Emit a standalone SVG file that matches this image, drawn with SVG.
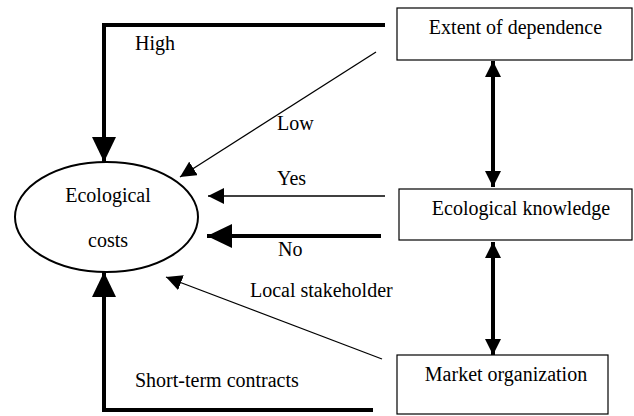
<svg xmlns="http://www.w3.org/2000/svg" width="634" height="416" viewBox="0 0 634 416">
<style>
.box{fill:#fff;stroke:#000;stroke-width:1.2}
.thin{fill:none;stroke:#000;stroke-width:1.3}
.thick{fill:none;stroke:#000;stroke-width:4}
</style>
<defs>
<marker id="big" viewBox="0 0 25 24" refX="25" refY="12" markerWidth="25" markerHeight="24" markerUnits="userSpaceOnUse" orient="auto-start-reverse"><path d="M0,0 L25,12 L0,24 Z" fill="#000"/></marker>
<marker id="mid" viewBox="0 0 16 16" refX="16" refY="8" markerWidth="16" markerHeight="16" markerUnits="userSpaceOnUse" orient="auto-start-reverse"><path d="M0,0 L16,8 L0,16 Z" fill="#000"/></marker>
<marker id="small" viewBox="0 0 16 16" refX="16" refY="8" markerWidth="16" markerHeight="16" markerUnits="userSpaceOnUse" orient="auto"><path d="M0,0 L16,8 L0,16 Z" fill="#000"/></marker>
</defs>
<g font-family="Liberation Serif, Times New Roman, serif" font-size="20" fill="#000">
<g id="connectors">
<path class="thick" d="M385,25 H104 V162" marker-end="url(#big)"/>
<path class="thin" d="M376,52 L180,177" marker-end="url(#small)"/>
<path class="thin" d="M385,196 H208" marker-end="url(#small)"/>
<path class="thick" d="M381,236 H207" marker-end="url(#big)"/>
<path class="thin" d="M382,359 L166,277" marker-end="url(#small)"/>
<path class="thick" d="M373,410 H104 V272" marker-end="url(#big)"/>
<path class="thick" d="M493,61 V187" marker-start="url(#mid)" marker-end="url(#mid)"/>
<path class="thick" d="M493,242 V355" marker-start="url(#mid)" marker-end="url(#mid)"/>
<text x="135" y="50">High</text>
<text x="277" y="130">Low</text>
<text x="277" y="185">Yes</text>
<text x="278" y="256">No</text>
<text x="250" y="297">Local stakeholder</text>
<text x="135" y="387">Short-term contracts</text>
</g>
<g id="ecological-costs">
<ellipse cx="106.5" cy="217" rx="91.5" ry="55" fill="#fff" stroke="#000" stroke-width="2"/>
<text x="108" y="202" text-anchor="middle">Ecological</text>
<text x="108" y="247" text-anchor="middle">costs</text>
</g>
<g id="extent-of-dependence">
<rect class="box" x="397" y="8" width="235" height="52"/>
<text x="515.5" y="34" text-anchor="middle">Extent of dependence</text>
</g>
<g id="ecological-knowledge">
<rect class="box" x="399" y="189" width="233" height="51"/>
<text x="521" y="215" text-anchor="middle">Ecological knowledge</text>
</g>
<g id="market-organization">
<rect class="box" x="397" y="355" width="211" height="59"/>
<text x="506" y="381" text-anchor="middle">Market organization</text>
</g>
</g>
</svg>
